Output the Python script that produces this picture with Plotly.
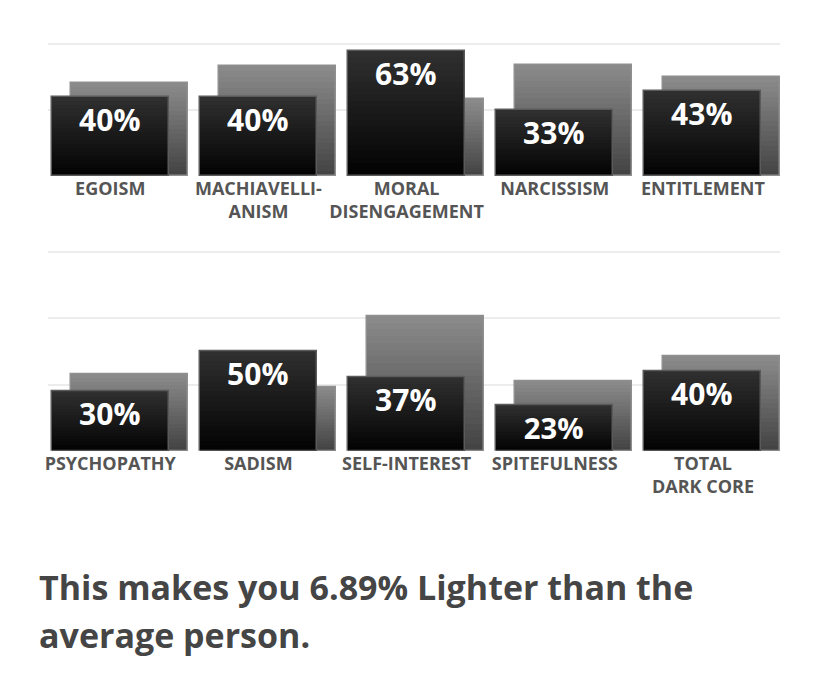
import plotly.graph_objects as go

# top panel
labels_top = ["EGOISM", "MACHIAVELLI-<br>ANISM", "MORAL<br>DISENGAGEMENT", "NARCISSISM", "ENTITLEMENT"]
you_top = [40, 40, 63, 33, 43]
avg_top = [47, 55.4, 38.6, 56, 50]

# bottom panel
labels_bottom = ["PSYCHOPATHY", "SADISM", "SELF-INTEREST", "SPITEFULNESS", "TOTAL<br>DARK CORE"]
you_bottom = [30, 50, 37, 23, 40]
avg_bottom = [38.6, 32.2, 67.8, 34.8, 47.4]

sentence = ["This makes you 6.89% Lighter than the", "average person."]

FONT = "Open Sans"
N = 20          # slices used to fake the vertical gradient
W = 0.79        # bar width in category units
SHIFT = 0.128   # how far the average bar sits to the right


def mix(c1, c2, t):
    return "rgb(%d,%d,%d)" % tuple(round(a + (b - a) * t) for a, b in zip(c1, c2))


def add_bars(fig, xa, ya, values, offset, bottom_col, top_col, edge, text=None):
    xs = list(range(len(values)))
    for k in range(N):
        t = (k + 0.5) / N
        fig.add_trace(go.Bar(
            x=xs, y=[v / N for v in values], base=[v * k / N for v in values],
            width=W, offset=offset, xaxis=xa, yaxis=ya,
            marker=dict(color=mix(bottom_col, top_col, t), line=dict(width=0)),
            hoverinfo="skip", showlegend=False))
    # outline (and the value label for the front bars)
    fig.add_trace(go.Bar(
        x=xs, y=values, width=W, offset=offset, xaxis=xa, yaxis=ya,
        marker=dict(color="rgba(0,0,0,0)", line=dict(color=edge, width=1.5)),
        text=text, textposition="inside" if text else "none",
        insidetextanchor="end", textangle=0,
        textfont=dict(family=FONT, size=30, color="white", weight=700),
        hoverinfo="skip", showlegend=False))


fig = go.Figure()
for xa, ya, you, avg in [("x", "y", you_top, avg_top), ("x2", "y2", you_bottom, avg_bottom)]:
    add_bars(fig, xa, ya, avg, -W / 2 + SHIFT, (66, 66, 66), (140, 140, 140), "#8f8f8f")
    add_bars(fig, xa, ya, you, -W / 2, (2, 2, 2), (48, 48, 48), "#5a5a5a",
             text=["%d%%" % v for v in you])

# the page body adds an 8px margin, so the figure is 8px smaller each way
H = 671
xcommon = dict(range=[-0.42, 4.52], tickmode="array", tickvals=list(range(5)),
               showgrid=False, zeroline=False, showline=False, ticks="",
               tickfont=dict(family=FONT, size=18, color="#555555", weight=700))
ycommon = dict(tickvals=[0, 100 / 3, 200 / 3, 100], showticklabels=False,
               showgrid=True, gridcolor="#ececec", gridwidth=2, zeroline=False)

fig.update_layout(
    width=820, height=H,
    margin=dict(l=40, r=48, t=0, b=0),
    paper_bgcolor="white", plot_bgcolor="white",
    barmode="overlay", bargap=0,
    xaxis=dict(xcommon, ticktext=labels_top, anchor="y"),
    yaxis=dict(ycommon, range=[0, 84.6], domain=[1 - 168 / H, 1], anchor="x"),
    xaxis2=dict(xcommon, ticktext=labels_bottom, anchor="y2"),
    yaxis2=dict(ycommon, range=[0, 101], domain=[1 - 442.7 / H, 1 - 242.2 / H], anchor="x2"),
)

for i, line in enumerate(sentence):
    fig.add_annotation(
        text=line, xref="paper", yref="paper", x=-0.0146, y=1 - (579 + 48 * i) / H,
        xanchor="left", yanchor="middle", showarrow=False,
        font=dict(family=FONT, size=34, color="#454545", weight=700))

fig.write_html("out.html")
